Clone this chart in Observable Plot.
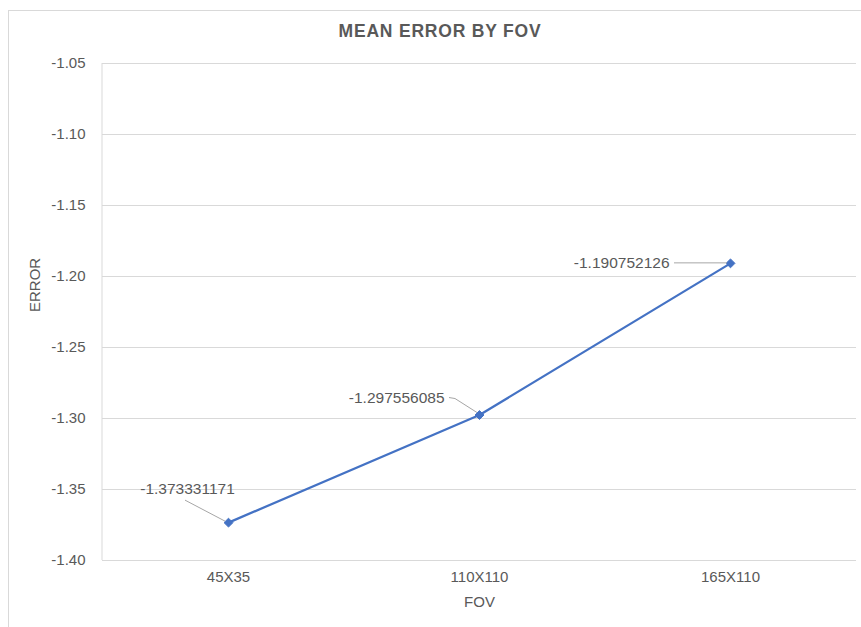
<!DOCTYPE html>
<html>
<head>
<meta charset="utf-8">
<script src="https://cdn.jsdelivr.net/npm/d3@7"></script>
<script src="https://cdn.jsdelivr.net/npm/@observablehq/plot@0.6"></script>
<style>
  html, body { margin: 0; padding: 0; background: #fff; }
  #wrap { position: relative; width: 861px; height: 627px; overflow: hidden; font-family: "Liberation Sans", Arial, sans-serif; }
  #frame { position: absolute; left: 8px; top: 10px; width: 900px; height: 700px; border: 1px solid #d9d9d9; box-sizing: border-box; }
  #title { position: absolute; left: 0; width: 880px; top: 21px; text-align: center; font-weight: bold; font-size: 17.5px; letter-spacing: 0.8px; color: #595959; }
  #chart { position: absolute; left: 0; top: 0; }
</style>
</head>
<body>
<div id="wrap">
  <div id="frame"></div>
  <div id="title">MEAN ERROR BY FOV</div>
  <div id="chart"></div>
</div>
<script>
const categories = ["45X35", "110X110", "165X110"];
const errors = [-1.373331171, -1.297556085, -1.190752126];
const labels = ["-1.373331171", "-1.297556085", "-1.190752126"];
const yTicks = [-1.40, -1.35, -1.30, -1.25, -1.20, -1.15, -1.10, -1.05];

const data = categories.map((c, i) => ({fov: c, error: errors[i], label: labels[i]}));

// label placement relative to each point (pixels)
const labelOffsets = [
  {dx: -41, dy: -34, anchor: "middle", leader: [[-43, -22], [-3, -1]]},
  {dx: -35, dy: -17, anchor: "end", leader: [[-30, -17], [-24, -16], [-2, -2]]},
  {dx: -61, dy: 0, anchor: "end", leader: [[-56, 0], [-3, 0]]}
];

const font = "Liberation Sans, Arial, sans-serif";
const color = "#4472C4";

const chart = Plot.plot({
  width: 861,
  height: 627,
  marginTop: 63,
  marginBottom: 67,
  marginLeft: 102,
  marginRight: 5,
  style: {fontFamily: font, fontSize: "15px", color: "#595959", background: "transparent"},
  x: {type: "point", domain: categories, padding: 0.5, label: null},
  y: {domain: [-1.40, -1.05], label: null},
  marks: [
    Plot.ruleY(yTicks, {stroke: "#d9d9d9", strokeWidth: 1}),
    Plot.axisY({ticks: yTicks, tickFormat: d => d.toFixed(2), tickSize: 0, tickPadding: 17, fontSize: 15, fill: "#595959"}),
    Plot.axisX({tickSize: 0, tickPadding: 11, fontSize: 15, fill: "#595959"}),
    Plot.text(["FOV"], {frameAnchor: "bottom", dy: 46, fontSize: 15, fill: "#595959"}),
    Plot.text(["ERROR"], {frameAnchor: "left", dx: -67, rotate: -90, fontSize: 15, fill: "#595959"}),
    Plot.line(data, {x: "fov", y: "error", stroke: color, strokeWidth: 2.25}),
    Plot.dot(data, {x: "fov", y: "error", symbol: "diamond2", r: 4, fill: color, stroke: color, strokeWidth: 1}),
    ...data.map((d, i) => Plot.text([d], {
      x: "fov", y: "error", text: "label",
      dx: labelOffsets[i].dx, dy: labelOffsets[i].dy,
      textAnchor: labelOffsets[i].anchor,
      fontSize: 15.5, fill: "#595959"
    }))
  ]
});

document.getElementById("chart").appendChild(chart);

const sx = chart.scale("x"), sy = chart.scale("y");
const svg = d3.select(chart.tagName === "svg" ? chart : chart.querySelector("svg"));

// left edge of the plot area, from the scales' ranges
const [x0] = sx.range, [yb, yt] = sy.range;
svg.insert("line", ":first-child")
  .attr("x1", x0).attr("x2", x0).attr("y1", Math.min(yb, yt)).attr("y2", Math.max(yb, yt))
  .attr("stroke", "#d9d9d9").attr("stroke-width", 1);

// leader lines from labels to points, positioned through Plot's scales
const g = svg.append("g").attr("fill", "none").attr("stroke", "#a6a6a6").attr("stroke-width", 1);
data.forEach((d, i) => {
  const px = sx.apply(d.fov), py = sy.apply(d.error);
  const pts = labelOffsets[i].leader.map(([ox, oy]) => [px + ox, py + oy]);
  g.append("path").attr("d", d3.line()(pts));
});
</script>
</body>
</html>
